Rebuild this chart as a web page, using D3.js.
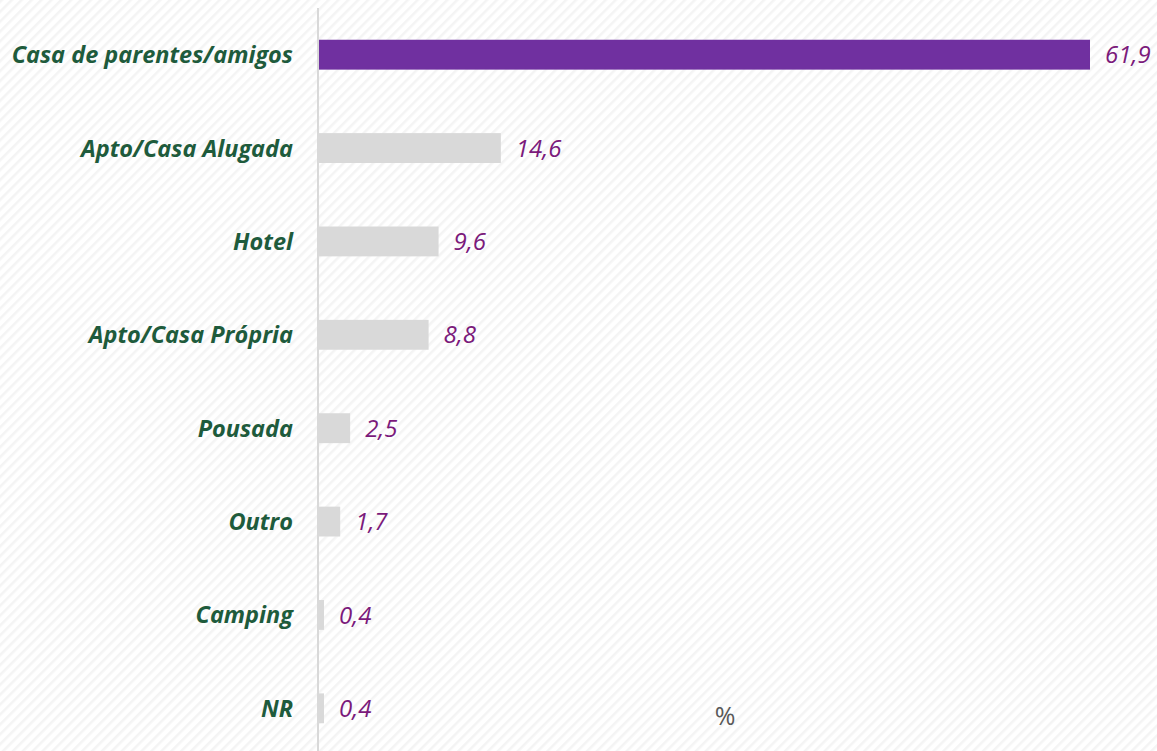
<!DOCTYPE html>
<html>
<head>
<meta charset="utf-8">
<script src="https://cdn.jsdelivr.net/npm/d3@7"></script>
<style>
  body { margin: 0; background: #fff; }
  svg { display: block; }
</style>
</head>
<body>
<div id="chart"></div>
<script>
// data
var categories = ["Casa de parentes/amigos", "Apto/Casa Alugada", "Hotel", "Apto/Casa Própria",
                  "Pousada", "Outro", "Camping", "NR"];
var values = [61.9, 14.6, 9.6, 8.8, 2.5, 1.7, 0.4, 0.4];
var highlight = "Casa de parentes/amigos";
var unitLabel = "%";

var width = 1157, height = 751;
var margin = { left: 319, right: 67, top: 8, bottom: -4 };

var svg = d3.select("#chart").append("svg")
    .attr("width", width)
    .attr("height", height);

// faint diagonal hatch background
var defs = svg.append("defs");
var pat = defs.append("pattern")
    .attr("id", "hatch")
    .attr("patternUnits", "userSpaceOnUse")
    .attr("width", 7).attr("height", 7)
    .attr("patternTransform", "rotate(45)");
pat.append("rect").attr("width", 7).attr("height", 7).attr("fill", "#ffffff");
pat.append("rect").attr("width", 2.5).attr("height", 7).attr("fill", "#f4f4f4");

svg.append("rect").attr("width", width).attr("height", height).attr("fill", "url(#hatch)");

var x = d3.scaleLinear()
    .domain([0, 61.9])
    .range([margin.left, width - margin.right]);

var y = d3.scaleBand()
    .domain(categories)
    .range([margin.top, height - margin.bottom])
    .paddingInner(0.68)
    .paddingOuter(0.34);

// axis line
svg.append("line")
    .attr("x1", margin.left - 1).attr("x2", margin.left - 1)
    .attr("y1", margin.top).attr("y2", height)
    .attr("stroke", "#d9d9d9")
    .attr("stroke-width", 2);

svg.selectAll(".bar")
    .data(categories)
  .enter().append("rect")
    .attr("class", "bar")
    .attr("x", x(0))
    .attr("y", function(d) { return y(d); })
    .attr("height", y.bandwidth())
    .attr("width", function(d, i) { return x(values[i]) - x(0); })
    .attr("fill", function(d) { return d == highlight ? "#7030a0" : "#d9d9d9"; });

// category labels
svg.selectAll(".cat")
    .data(categories)
  .enter().append("text")
    .attr("class", "cat")
    .attr("x", margin.left - 26)
    .attr("y", function(d) { return y(d) + y.bandwidth() / 2; })
    .attr("dy", "0.36em")
    .attr("text-anchor", "end")
    .attr("font-family", "'Open Sans', sans-serif")
    .attr("font-size", "23.5px")
    .attr("font-weight", "bold")
    .attr("font-style", "italic")
    .attr("fill", "#1e5b3c")
    .text(function(d) { return d; });

// value labels
svg.selectAll(".val")
    .data(categories)
  .enter().append("text")
    .attr("class", "val")
    .attr("x", function(d, i) { return x(values[i]) + 15; })
    .attr("y", function(d) { return y(d) + y.bandwidth() / 2; })
    .attr("dy", "0.36em")
    .attr("font-family", "'Open Sans', sans-serif")
    .attr("font-size", "24px")
    .attr("font-style", "italic")
    .attr("fill", "#7b1a7b")
    .text(function(d, i) { return d3.format(".1f")(values[i]).replace(".", ","); });

svg.append("text")
    .attr("x", 725)
    .attr("y", 716)
    .attr("dy", "0.36em")
    .attr("text-anchor", "middle")
    .attr("font-family", "'Open Sans', sans-serif")
    .attr("font-size", "25px")
    .attr("fill", "#595959")
    .text(unitLabel);
</script>
</body>
</html>
